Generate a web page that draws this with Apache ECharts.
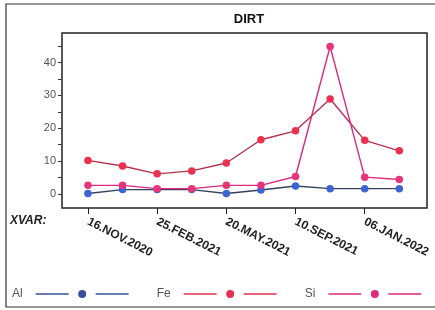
<!DOCTYPE html>
<html>
<head>
<meta charset="utf-8">
<title>DIRT</title>
<script src="https://cdn.jsdelivr.net/npm/echarts@6/dist/echarts.min.js"></script>
<style>
html, body { margin: 0; padding: 0; background: #fff; }
#chart { width: 435px; height: 310px; }
</style>
</head>
<body>
<div id="chart"></div>
<script>
// 数据
var dateLabels = ['16.NOV.2020', '', '25.FEB.2021', '', '20.MAY.2021', '', '10.SEP.2021', '', '06.JAN.2022', ''];
var alValues = [0.1, 1.3, 1.3, 1.3, 0.1, 1.2, 2.4, 1.6, 1.6, 1.6];
var feValues = [10.2, 8.5, 6.1, 7.0, 9.4, 16.5, 19.2, 28.9, 16.3, 13.1];
var siValues = [2.6, 2.6, 1.6, 1.6, 2.6, 2.6, 5.3, 44.9, 5.1, 4.4];
var xTicks = [0, 2, 4, 6, 8];
var yLabels = [0, 10, 20, 30, 40];
var yTicks = [0, 5, 10, 15, 20, 25, 30, 35, 40, 45];

function pairs(arr) {
  return arr.map(function (v, i) { return [i, v]; });
}

function mkSeries(name, vals, lineColor, dotColor) {
  return {
    name: name,
    type: 'line',
    data: pairs(vals),
    symbol: 'circle',
    symbolSize: 7.5,
    lineStyle: { color: lineColor, width: 1.4 },
    itemStyle: { color: dotColor },
    emphasis: { disabled: true }
  };
}

// 图例图标: 线 - 点 - 线
var legendIcon = 'path://M0,3.7h33v1.6h-33z M60,3.7h33v1.6h-33z M50.5,4.5a4,4 0 1 1 -8,0a4,4 0 1 1 8,0z';

var chart = echarts.init(document.getElementById('chart'));
chart.setOption({
  animation: false,
  title: {
    text: 'DIRT',
    left: 244,
    top: 8,
    textAlign: 'center',
    textStyle: { fontSize: 13, fontWeight: 'bold', color: '#111', fontFamily: 'Liberation Sans' }
  },
  graphic: [
    { type: 'rect', shape: { x: 6, y: 4, width: 440, height: 303 },
      style: { fill: 'none', stroke: '#333', lineWidth: 1.2 }, silent: true },
    { type: 'text', left: 10, top: 215,
      style: { text: 'XVAR:', font: 'italic bold 12px Liberation Sans', fill: '#222' } }
  ],
  grid: {
    left: 62, top: 33, right: 8, bottom: 102,
    show: true, borderColor: '#222', borderWidth: 1.5
  },
  legend: {
    left: 7,
    top: 283,
    align: 'right',
    icon: legendIcon,
    itemWidth: 93,
    itemHeight: 9,
    itemGap: 28,
    textStyle: { fontSize: 12, color: '#555', fontFamily: 'Liberation Sans', padding: [0, 8, 0, 0] },
    data: [
      { name: 'Al', itemStyle: { color: '#38509a' } },
      { name: 'Fe', itemStyle: { color: '#e23050' } },
      { name: 'Si', itemStyle: { color: '#dc2a7c' } }
    ]
  },
  xAxis: {
    type: 'value',
    min: -0.75,
    max: 9.8,
    splitLine: { show: false },
    axisLine: { show: false, onZero: false },
    axisTick: { show: true, customValues: xTicks, length: 6, lineStyle: { color: '#222' } },
    axisLabel: {
      customValues: xTicks,
      rotate: -27,
      margin: 13,
      fontSize: 12,
      fontWeight: 'bold',
      color: '#222',
      fontFamily: 'Liberation Sans',
      formatter: function (v) { return dateLabels[Math.round(v)]; }
    }
  },
  yAxis: {
    type: 'value',
    min: -4.3,
    max: 49,
    splitLine: { show: false },
    axisLine: { show: false, onZero: false },
    axisTick: { show: true, customValues: yTicks, length: 4, lineStyle: { color: '#333' } },
    axisLabel: {
      customValues: yLabels,
      margin: 6,
      fontSize: 11,
      color: '#555',
      fontFamily: 'Liberation Sans'
    }
  },
  series: [
    mkSeries('Al', alValues, '#34405e', '#3c64d2'),
    mkSeries('Fe', feValues, '#b8304c', '#ec3050'),
    mkSeries('Si', siValues, '#dc2a7c', '#e8347a')
  ]
});
</script>
</body>
</html>
